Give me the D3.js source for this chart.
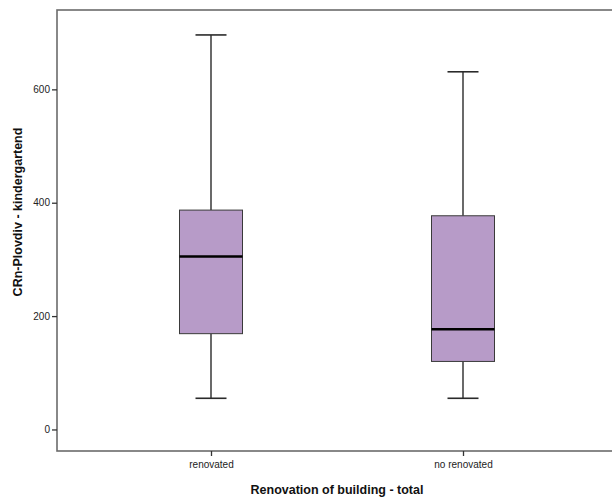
<!DOCTYPE html>
<html>
<head>
<meta charset="utf-8">
<script src="https://cdn.jsdelivr.net/npm/d3@7"></script>
<style>
  html, body { margin: 0; padding: 0; background: #fff; }
  svg { display: block; }
  text { font-family: Arial, "Liberation Sans", sans-serif; }
</style>
</head>
<body>
<svg id="chart" width="612" height="499"></svg>
<script>
// Box-plot summaries per renovation group
const categories = ["renovated", "no renovated"];
const whiskerLow = [55, 55];
const quartile1 = [169, 120];
const medians = [305, 177];
const quartile3 = [387, 377];
const whiskerHigh = [696, 631];
const yTicks = [0, 200, 400, 600];

const xTitle = "Renovation of building - total";
const yTitle = "CRn-Plovdiv - kindergartend";

const svg = d3.select("#chart");
const frame = { left: 57, top: 10, right: 622, bottom: 451 };

const y = d3.scaleLinear().domain([-38, 740]).range([frame.bottom, frame.top]);
const x = d3.scalePoint().domain(categories).range([211, 463]);

const boxW = 63, capW = 31;

const boxes = categories.map((c, i) => ({
  cat: c, lo: whiskerLow[i], q1: quartile1[i], med: medians[i], q3: quartile3[i], hi: whiskerHigh[i]
}));

// Plot frame
svg.append("rect")
  .attr("x", frame.left).attr("y", frame.top)
  .attr("width", frame.right - frame.left).attr("height", frame.bottom - frame.top)
  .attr("fill", "none").attr("stroke", "#6b6b6b").attr("stroke-width", 1.6);

// Y axis ticks & labels
const yAxis = d3.axisLeft(y).tickValues(yTicks).tickSize(5).tickPadding(2).tickFormat(d3.format("d"));
const gy = svg.append("g").attr("transform", `translate(${frame.left},0)`).call(yAxis);
gy.select(".domain").remove();
gy.selectAll(".tick line").attr("stroke", "#333").attr("stroke-width", 1.3);
gy.selectAll(".tick text").attr("fill", "#222").style("font-size", "10px").style("font-family", "Arial, 'Liberation Sans', sans-serif");

// X axis ticks & labels
const xAxis = d3.axisBottom(x).tickSize(5).tickPadding(5);
const gx = svg.append("g").attr("transform", `translate(0,${frame.bottom})`).call(xAxis);
gx.select(".domain").remove();
gx.selectAll(".tick line").attr("stroke", "#333").attr("stroke-width", 1.3);
gx.selectAll(".tick text").attr("fill", "#222").style("font-size", "10px").style("font-family", "Arial, 'Liberation Sans', sans-serif");

// Whiskers
const g = svg.append("g");
boxes.forEach(b => {
  const cx = x(b.cat);
  g.append("line").attr("x1", cx).attr("x2", cx).attr("y1", y(b.hi)).attr("y2", y(b.q3))
    .attr("stroke", "#2a2a2a").attr("stroke-width", 1.4);
  g.append("line").attr("x1", cx).attr("x2", cx).attr("y1", y(b.q1)).attr("y2", y(b.lo))
    .attr("stroke", "#2a2a2a").attr("stroke-width", 1.4);
  g.append("line").attr("x1", cx - capW / 2).attr("x2", cx + capW / 2).attr("y1", y(b.hi)).attr("y2", y(b.hi))
    .attr("stroke", "#2a2a2a").attr("stroke-width", 1.6);
  g.append("line").attr("x1", cx - capW / 2).attr("x2", cx + capW / 2).attr("y1", y(b.lo)).attr("y2", y(b.lo))
    .attr("stroke", "#2a2a2a").attr("stroke-width", 1.6);
  g.append("rect").attr("x", cx - boxW / 2).attr("y", y(b.q3))
    .attr("width", boxW).attr("height", y(b.q1) - y(b.q3))
    .attr("fill", "#b79bc8").attr("stroke", "#3a3a3a").attr("stroke-width", 1);
  g.append("line").attr("x1", cx - boxW / 2).attr("x2", cx + boxW / 2).attr("y1", y(b.med)).attr("y2", y(b.med))
    .attr("stroke", "#000").attr("stroke-width", 2.5);
});

// Axis titles
svg.append("text").attr("x", 337).attr("y", 494).attr("text-anchor", "middle")
  .style("font-size", "12.5px").style("font-weight", "bold").attr("fill", "#111").text(xTitle);
svg.append("text").attr("transform", "translate(22,212) rotate(-90)").attr("text-anchor", "middle")
  .style("font-size", "12.5px").style("font-weight", "bold").attr("fill", "#111").text(yTitle);
</script>
</body>
</html>
